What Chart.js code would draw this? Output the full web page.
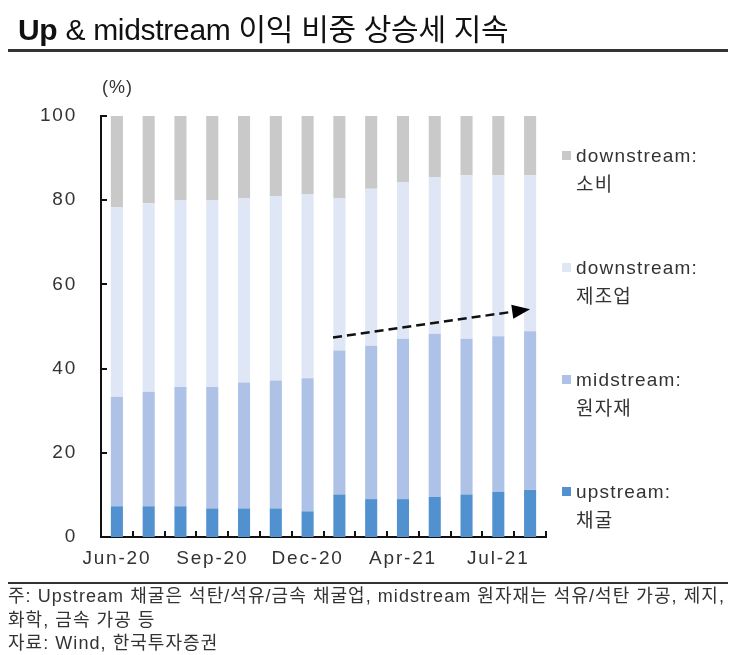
<!DOCTYPE html>
<html>
<head>
<meta charset="utf-8">
<script src="https://cdn.jsdelivr.net/npm/chart.js@4"></script>
<style>
  body { margin: 0; background: #fff; font-family: 'Liberation Sans', 'Noto Sans CJK KR', sans-serif; color: #333; }
  #wrap { position: relative; width: 738px; height: 655px; overflow: hidden; }
  #chart { position: absolute; left: 0; top: 0; }
  .title { position: absolute; left: 18px; top: 5px; font-size: 30px; color: #111; letter-spacing: -0.3px; white-space: nowrap; }
  .title b { font-weight: bold; }
  .rule-top { position: absolute; left: 8px; width: 720px; top: 49px; height: 3px; background: #333; }
  .rule-bottom { position: absolute; left: 8px; width: 720px; top: 582px; height: 2px; background: #333; }
  .notes { position: absolute; left: 8px; top: 585px; font-size: 18px; letter-spacing: 1.05px; line-height: 23.5px; color: #333; white-space: nowrap; }
  .unit { position: absolute; left: 102px; top: 77px; font-size: 18px; letter-spacing: 1px; color: #333; }
  #legend { position: absolute; left: 562px; top: 141px; font-size: 19px; letter-spacing: 1.2px; color: #333; }
  .item { position: relative; height: 112px; line-height: 29px; padding-left: 14px; }
  .item span.sw { position: absolute; left: 0; top: 10px; width: 9px; height: 9px; }
</style>
</head>
<body>
<div id="wrap">
  <canvas id="chart" width="738" height="655"></canvas>
  <div class="title"><b>Up</b> &amp; midstream 이익 비중 상승세 지속</div>
  <div class="rule-top"></div>
  <div class="unit">(%)</div>
  <div id="legend"></div>
  <div class="rule-bottom"></div>
  <div class="notes">
    주: Upstream 채굴은 석탄/석유/금속 채굴업, midstream 원자재는 석유/석탄 가공, 제지,<br>
    화학, 금속 가공 등<br>
    자료: Wind, 한국투자증권
  </div>
</div>
<script>
const months = ['Jun-20', 'Jul-20', 'Aug-20', 'Sep-20', 'Oct-20', 'Nov-20', 'Dec-20',
  'Feb-21', 'Mar-21', 'Apr-21', 'May-21', 'Jun-21', 'Jul-21', 'Aug-21'];
const upstream = [7.3, 7.3, 7.3, 6.8, 6.8, 6.8, 6.1, 10.1, 9.0, 9.0, 9.5, 10.1, 10.7, 11.2];
const midstream = [26.0, 27.2, 28.3, 28.8, 29.9, 30.4, 31.6, 34.2, 36.4, 38.1, 38.8, 37.0, 37.0, 37.7];
const manufacturing = [45.1, 44.8, 44.3, 44.3, 43.7, 43.7, 43.8, 36.1, 37.3, 37.2, 37.1, 38.8, 38.2, 37.0];
const consumption = [21.6, 20.7, 20.1, 20.1, 19.6, 19.1, 18.5, 19.6, 17.3, 15.7, 14.6, 14.1, 14.1, 14.1];
const yTicks = [0, 20, 40, 60, 80, 100];
// trend arrow: [category index, value] start and end
const arrowFrom = [6.8, 47.4];
const arrowTo = [13.0, 54.1];

const seriesInfo = [
  { label: ['downstream:', '소비'], data: consumption, color: '#c9c9c9' },
  { label: ['downstream:', '제조업'], data: manufacturing, color: '#dfe7f6' },
  { label: ['midstream:', '원자재'], data: midstream, color: '#adc2e6' },
  { label: ['upstream:', '채굴'], data: upstream, color: '#5191d0' },
];

// legend on the right, top to bottom like the stack
const legend = document.getElementById('legend');
seriesInfo.forEach((s) => {
  legend.insertAdjacentHTML('beforeend',
    `<div class="item"><span class="sw" style="background:${s.color}"></span>${s.label[0]}<br>${s.label[1]}</div>`);
});

// inward tick marks on both axes, and the dashed trend arrow
const extrasPlugin = {
  id: 'extras',
  beforeDraw(chart) {
    // the source uses a wide font; spread the axis labels a bit
    chart.ctx.letterSpacing = '1.8px';
  },
  afterDraw(chart) {
    const ctx = chart.ctx;
    const x = chart.scales.x;
    const y = chart.scales.y;
    ctx.save();
    ctx.strokeStyle = '#111';
    ctx.lineWidth = 2;
    ctx.beginPath();
    for (let i = 1; i <= months.length; i++) {
      const px = Math.round(x.getPixelForValue(i - 0.5));
      ctx.moveTo(px, y.bottom);
      ctx.lineTo(px, y.bottom - 6);
    }
    yTicks.forEach((v) => {
      const py = Math.round(y.getPixelForValue(v));
      ctx.moveTo(x.left, py);
      ctx.lineTo(x.left + 6, py);
    });
    ctx.stroke();

    const x1 = x.getPixelForValue(arrowFrom[0]);
    const y1 = y.getPixelForValue(arrowFrom[1]);
    const x2 = x.getPixelForValue(arrowTo[0]);
    const y2 = y.getPixelForValue(arrowTo[1]);
    const ang = Math.atan2(y2 - y1, x2 - x1);
    const headLen = 18;
    const bx = x2 - headLen * Math.cos(ang);
    const by = y2 - headLen * Math.sin(ang);
    ctx.setLineDash([9, 5]);
    ctx.lineWidth = 2.5;
    ctx.beginPath();
    ctx.moveTo(x1, y1);
    ctx.lineTo(bx, by);
    ctx.stroke();
    ctx.setLineDash([]);
    ctx.fillStyle = '#000';
    ctx.beginPath();
    ctx.moveTo(x2, y2);
    ctx.lineTo(bx + 7 * Math.sin(ang), by - 7 * Math.cos(ang));
    ctx.lineTo(bx - 7 * Math.sin(ang), by + 7 * Math.cos(ang));
    ctx.closePath();
    ctx.fill();
    ctx.restore();
  },
};

Chart.defaults.font.family = "'Liberation Sans', 'Noto Sans CJK KR', sans-serif";
Chart.defaults.color = '#333';

const data = {
  labels: months,
  datasets: seriesInfo.slice().reverse().map((s) => ({
    label: s.label.join(' '),
    data: s.data,
    backgroundColor: s.color,
    borderWidth: 0,
    categoryPercentage: 1,
    barPercentage: 0.38,
  })),
};

const config = {
  type: 'bar',
  data: data,
  options: {
    responsive: false,
    animation: false,
    layout: {
      padding: { top: 116, right: 192, bottom: 68, left: 0 },
    },
    plugins: {
      legend: { display: false },
      tooltip: { enabled: false },
    },
    scales: {
      x: {
        stacked: true,
        grid: { display: false, drawTicks: false },
        border: { display: true, color: '#111', width: 2 },
        ticks: {
          autoSkip: false,
          maxRotation: 0,
          padding: 10,
          font: { size: 19 },
          callback: (val, idx) => (idx % 3 === 0 ? months[idx] : ''),
        },
        afterFit: (scale) => { scale.height = 50; },
      },
      y: {
        stacked: true,
        min: 0,
        max: 100,
        grid: { display: false, drawTicks: false },
        border: { display: true, color: '#111', width: 2 },
        afterBuildTicks: (scale) => { scale.ticks = yTicks.map((v) => ({ value: v })); },
        ticks: {
          padding: 24,
          font: { size: 19 },
        },
        afterFit: (scale) => { scale.width = 101; },
      },
    },
  },
  plugins: [extrasPlugin],
};

new Chart(document.getElementById('chart'), config);
</script>
</body>
</html>
